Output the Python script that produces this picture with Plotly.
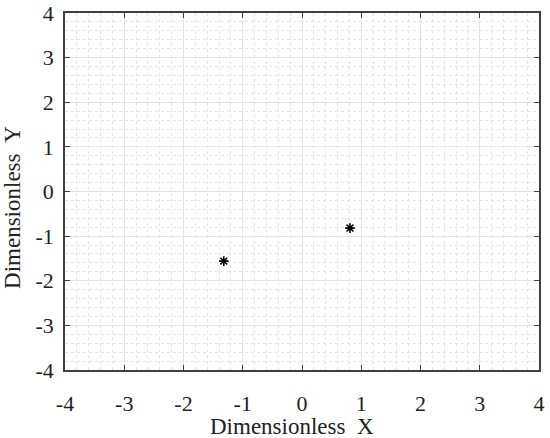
import plotly.graph_objects as go

x_vals = [-1.32, 0.81]
y_vals = [-1.56, -0.82]
tick_vals = [-4, -3, -2, -1, 0, 1, 2, 3, 4]
x_title = "Dimensionless  X"
y_title = "Dimensionless  Y"

fig = go.Figure()
fig.add_trace(go.Scatter(
    x=x_vals, y=y_vals, mode="markers",
    marker=dict(symbol="asterisk-open", size=8, color="black",
                line=dict(color="black", width=1.6)),
    showlegend=False,
))

axis_common = dict(
    range=[-4, 4], tickvals=tick_vals, ticktext=[str(v) for v in tick_vals],
    showgrid=True, gridcolor="#e3e3e3", gridwidth=1,
    minor=dict(dtick=0.2, showgrid=True, gridcolor="#e4e4e4", griddash="dot", gridwidth=1),
    showline=True, linecolor="#404040", linewidth=1.5, mirror="ticks",
    ticks="inside", ticklen=5, tickcolor="#404040", tickwidth=1,
    zeroline=False, automargin=False,
    tickfont=dict(family="Liberation Serif", size=22, color="#222222"),
)

fig.update_layout(
    width=550, height=438,
    margin=dict(l=65, r=11, t=13, b=68),
    plot_bgcolor="white", paper_bgcolor="white",
    xaxis=dict(**axis_common, ticklabelstandoff=13),
    yaxis=dict(**axis_common, ticklabelstandoff=5),
    annotations=[
        dict(text=x_title, xref="paper", yref="paper", x=0.479, y=-0.157,
             xanchor="center", yanchor="middle", showarrow=False,
             font=dict(family="Liberation Serif", size=23, color="#222222")),
        dict(text=y_title, xref="paper", yref="paper", x=-0.111, y=0.455,
             xanchor="center", yanchor="middle", showarrow=False, textangle=-90,
             font=dict(family="Liberation Serif", size=23, color="#222222")),
    ],
)

fig.write_html("out.html", config={"displayModeBar": False},
               post_script="document.body.style.margin='0';")
